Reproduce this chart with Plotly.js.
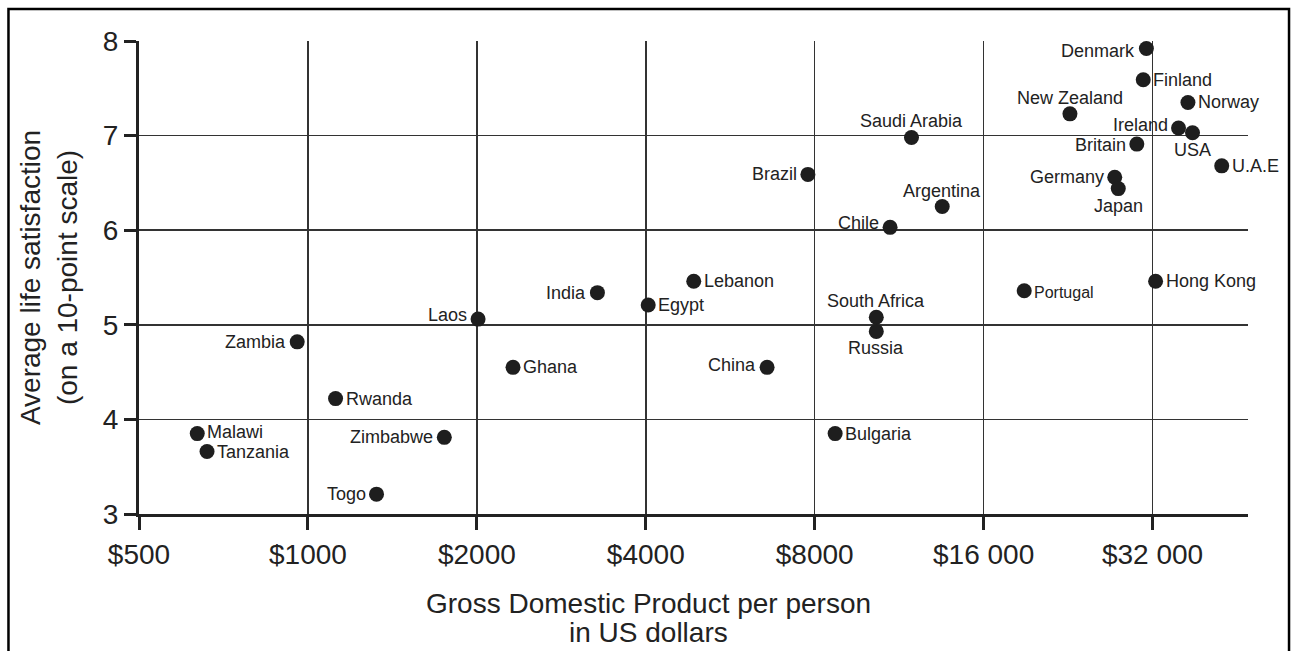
<!DOCTYPE html>
<html>
<head>
<meta charset="utf-8">
<script src="https://cdn.plot.ly/plotly-3.0.1.min.js"></script>
<style>
  html, body { margin: 0; padding: 0; background: #ffffff; }
  #chart { width: 1295px; height: 651px; }
</style>
</head>
<body>
<div id="chart"></div>
<script>
// ---- Data ----
const countries = ['Denmark','Finland','Norway','New Zealand','Saudi Arabia','Ireland','USA','Britain','U.A.E','Germany','Japan','Argentina','Chile','Brazil','Hong Kong','Portugal','South Africa','Russia','Lebanon','India','Egypt','Laos','Zambia','Rwanda','Ghana','China','Malawi','Tanzania','Zimbabwe','Togo','Bulgaria'];
const gdpPerPerson = [31200,30800,37000,22800,11900,35600,37700,30000,42500,27400,27800,13500,10900,7780,32400,18900,10300,10300,4870,3280,4040,2010,957,1120,2320,6580,635,661,1750,1325,8700];
const lifeSatisfaction = [7.92,7.59,7.35,7.23,6.98,7.08,7.03,6.91,6.68,6.56,6.44,6.25,6.03,6.59,5.46,5.36,5.08,4.93,5.46,5.34,5.21,5.06,4.82,4.22,4.55,4.55,3.85,3.66,3.81,3.21,3.85];
// which side of the dot each country's name sits on
const labelSide = ['l','r','r','t','t','l','b','l','r','l','b','t','l','l','r','r','t','b','r','l','r','l','l','r','r','l','r','r','l','l','r'];

const xTickVals = [500,1000,2000,4000,8000,16000,32000];
const xTickText = ['$500','$1000','$2000','$4000','$8000','$16 000','$32 000'];
const yTickVals = [3,4,5,6,7,8];
const xTitleLines = ['Gross Domestic Product per person','in US dollars'];
const yTitle = 'Average life satisfaction<br>(on a 10-point scale)';

// ---- Styling ----
const FONT = 'Liberation Sans, Arial, Helvetica, sans-serif';
const INK = '#1e1e1e';
const smallLabels = {'Portugal': 16};
const nudgeUp = {'Ireland': 3, 'Chile': 4, 'Laos': 4, 'China': 2, 'Malawi': 2, 'Denmark': -2, 'Portugal': -2, 'Britain': -1};

const annotations = countries.map((name, i) => {
  const a = {
    x: Math.log10(gdpPerPerson[i]), y: lifeSatisfaction[i], xref: 'x', yref: 'y',
    text: name, showarrow: false, borderpad: 0, borderwidth: 0,
    font: {family: FONT, size: smallLabels[name] || 18, color: '#222'},
    xanchor: 'center', yanchor: 'middle', xshift: 0, yshift: (nudgeUp[name] || 0)
  };
  const s = labelSide[i];
  if (s === 'l') { a.xanchor = 'right'; a.xshift = -11; }
  else if (s === 'r') { a.xanchor = 'left'; a.xshift = 10; }
  else if (s === 't') { a.yanchor = 'bottom'; a.yshift += 6; }
  else if (s === 'b') { a.yanchor = 'top'; a.yshift -= 7; }
  return a;
});

// x-axis title (two tight lines)
annotations.push({
  xref: 'paper', yref: 'paper', x: 0.459, y: -0.189, xanchor: 'center', yanchor: 'middle',
  text: xTitleLines[0], showarrow: false, font: {family: FONT, size: 28, color: '#222'}
});
annotations.push({
  xref: 'paper', yref: 'paper', x: 0.459, y: -0.251, xanchor: 'center', yanchor: 'middle',
  text: xTitleLines[1], showarrow: false, font: {family: FONT, size: 28, color: '#222'}
});

const trace = {
  type: 'scatter', mode: 'markers',
  x: gdpPerPerson, y: lifeSatisfaction, text: countries,
  marker: {size: 15, color: INK},
  cliponaxis: false, hoverinfo: 'text+x+y'
};

const layout = {
  width: 1295, height: 651,
  margin: {l: 139, r: 47, t: 41, b: 136.5, pad: 0},
  paper_bgcolor: '#ffffff', plot_bgcolor: '#ffffff',
  showlegend: false,
  font: {family: FONT, color: '#222'},
  xaxis: {
    type: 'log', range: [Math.log10(500), Math.log10(47340)],
    tickvals: xTickVals, ticktext: xTickText,
    tickfont: {family: FONT, size: 28, color: '#222'},
    ticks: 'outside', ticklen: 13, tickwidth: 3, tickcolor: '#222',
    showgrid: true, gridcolor: '#333', gridwidth: 1.5,
    showline: true, linecolor: '#222', linewidth: 3,
    zeroline: false, automargin: false, fixedrange: true
  },
  yaxis: {
    range: [3, 8], tickvals: yTickVals,
    tickfont: {family: FONT, size: 28, color: '#222'},
    ticks: 'outside', ticklen: 12, tickwidth: 3, tickcolor: '#222',
    showgrid: true, gridcolor: '#333', gridwidth: 1.5,
    showline: true, linecolor: '#222', linewidth: 3,
    zeroline: false, automargin: false, fixedrange: true,
    title: {text: yTitle, font: {family: FONT, size: 28, color: '#222'}, standoff: 18}
  },
  annotations: annotations,
  shapes: [{
    type: 'rect', xref: 'paper', yref: 'paper',
    x0: -0.1177, x1: 1.0370, y0: -0.40, y1: 1.0676,
    line: {color: '#000', width: 2.5}, fillcolor: 'rgba(0,0,0,0)', layer: 'above'
  }]
};

Plotly.newPlot('chart', [trace], layout, {displayModeBar: false, staticPlot: true});
</script>
</body>
</html>
